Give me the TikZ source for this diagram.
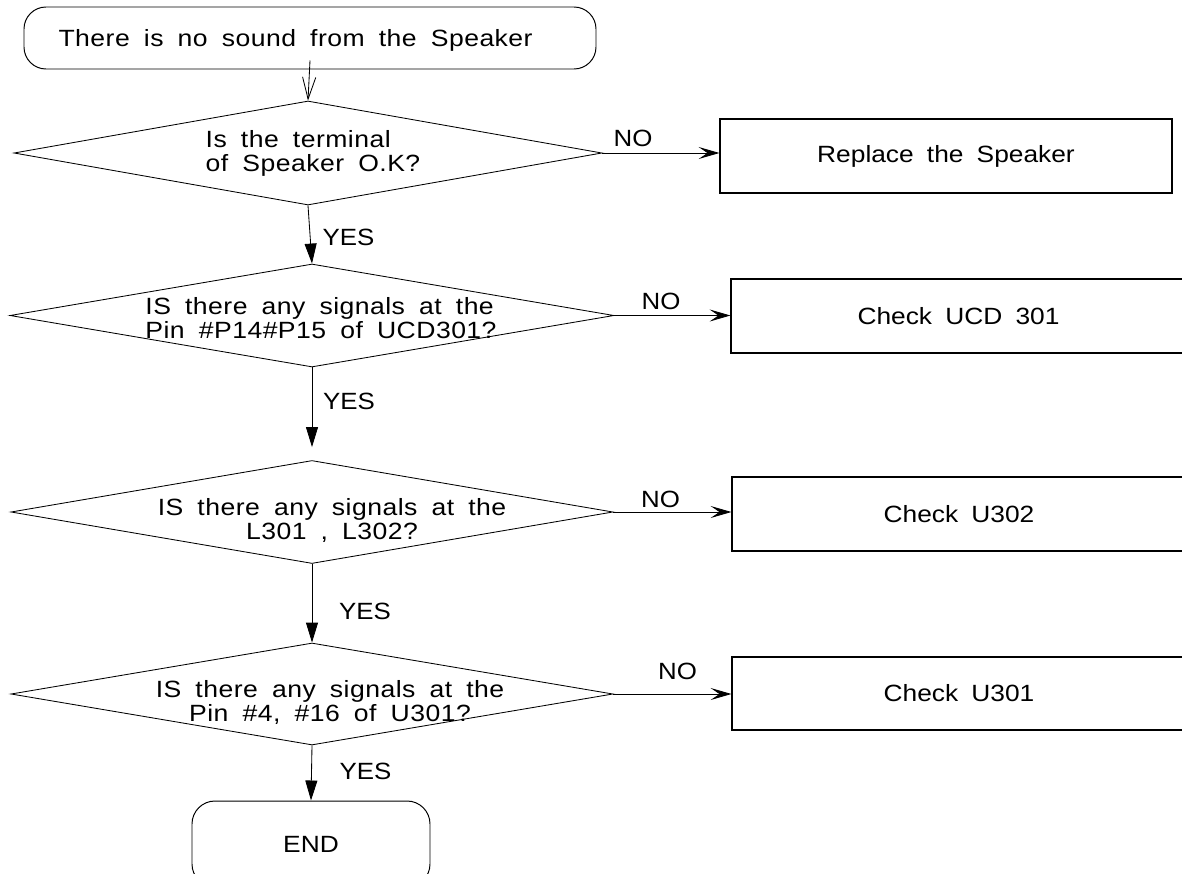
\documentclass[tikz,border=0pt]{standalone}
\usepackage{fontspec}
\setmainfont{Liberation Sans}[FakeStretch=1.13, LetterSpace=2, WordSpace=1.8]
\newfontfamily\boxfont{Liberation Sans}[FakeStretch=1.12, WordSpace=1.8]
\newfontfamily\answerfont{Liberation Sans}[FakeStretch=1.1]
\usetikzlibrary{shapes.geometric, arrows.meta}

\begin{document}
\begin{tikzpicture}[
  font=\fontsize{16.72}{17.07}\selectfont,
  terminal/.style={rectangle, draw, rounded corners=0.55cm, line width=0.7pt},
  decision/.style={diamond, draw, inner sep=0pt, line width=0.6pt},
  actionbox/.style={rectangle, draw, line width=0.8pt, minimum width=11.35cm, minimum height=1.85cm,
    font=\boxfont\fontsize{16.72}{17.07}\selectfont},
  answer/.style={inner sep=0pt, font=\answerfont\fontsize{16.72}{17.07}\selectfont},
  startarrow/.style={-{Straight Barb[length=0.55cm,width=0.33cm]}, line width=0.6pt},
  yesarrow/.style={-{Triangle[length=0.5cm,width=0.3cm]}, line width=0.6pt},
  noarrow/.style={-{Stealth[length=0.52cm,width=0.3cm,inset=0.22cm]}, line width=0.6pt}
]

% Page
\useasboundingbox (0,0) rectangle (29.55,-21.85);

% Start and end
\node[terminal, minimum width=14.3cm, minimum height=1.55cm,
  label={[xshift=-0.36cm, yshift=-0.05cm]center:{There is no sound from the Speaker}}] (start) at (7.75,-0.95) {};
\node[terminal, rounded corners=0.575cm, minimum width=5.95cm, minimum height=2.15cm,
  font=\boxfont\fontsize{16.72}{17.07}\selectfont] (end) at (7.775,-21.1) {END};

% Questions
\node[decision, minimum width=14.7cm, minimum height=2.6cm,
  label={[align=left, xshift=0.125cm]center:{Is the terminal\\of Speaker O.K?}}] (q1) at (7.7,-3.825) {};
\node[decision, minimum width=15.1cm, minimum height=2.575cm,
  label={[align=left, xshift=0.225cm, yshift=-0.075cm]center:{IS there any signals at the\\Pin \#P14\#P15 of UCD301?}}] (q2) at (7.8,-7.8875) {};
\node[decision, minimum width=15.05cm, minimum height=2.575cm,
  label={[align=center, xshift=0.5cm, yshift=-0.2cm]center:{IS there any signals at the\\L301 , L302?}}] (q3) at (7.8,-12.8) {};
\node[decision, minimum width=15.05cm, minimum height=2.55cm,
  label={[align=center, xshift=0.45cm, yshift=-0.2cm]center:{IS there any signals at the\\Pin \#4, \#16 of U301?}}] (q4) at (7.8,-17.35) {};

% Repairs
\node[actionbox, minimum width=11.3cm] (box1) at (23.65,-3.9) {Replace the Speaker};
\node[actionbox, minimum width=11.375cm] (box2) at (23.9625,-7.9) {Check UCD 301};
\node[actionbox] (box3) at (23.975,-12.85) {Check U302};
\node[actionbox, minimum height=1.825cm] (box4) at (23.975,-17.3375) {Check U301};

% Arrows
\draw[startarrow] ([yshift=0.225cm]start.south) -- (q1.north);
\draw[yesarrow] (q1.south) -- (q2.north);
\draw[yesarrow, shorten >=0.325cm] (q2.south) -- (q3.north);
\draw[yesarrow] (q3.south) -- (q4.north);
\draw[yesarrow] (q4.south) -- (end.north);

\draw[noarrow] (q1.east) -- (q1.east -| box1.west);
\draw[noarrow] (q2.east) -- (q2.east -| box2.west);
\draw[noarrow] (q3.east) -- (q3.east -| box3.west);
\draw[noarrow] (q4.east) -- (q4.east -| box4.west);

% Answers
\node[answer] (no1) at (15.825,-3.4625) {NO};
\node[answer] (no2) at (16.525,-7.5375) {NO};
\node[answer] (no3) at (16.5125,-12.475) {NO};
\node[answer] (no4) at (16.9375,-16.7875) {NO};
\node[answer] (yes1) at (8.7125,-5.9375) {YES};
\node[answer] (yes2) at (8.725,-10.0375) {YES};
\node[answer] (yes3) at (9.125,-15.2875) {YES};
\node[answer] (yes4) at (9.1375,-19.2875) {YES};

\end{tikzpicture}
\end{document}
